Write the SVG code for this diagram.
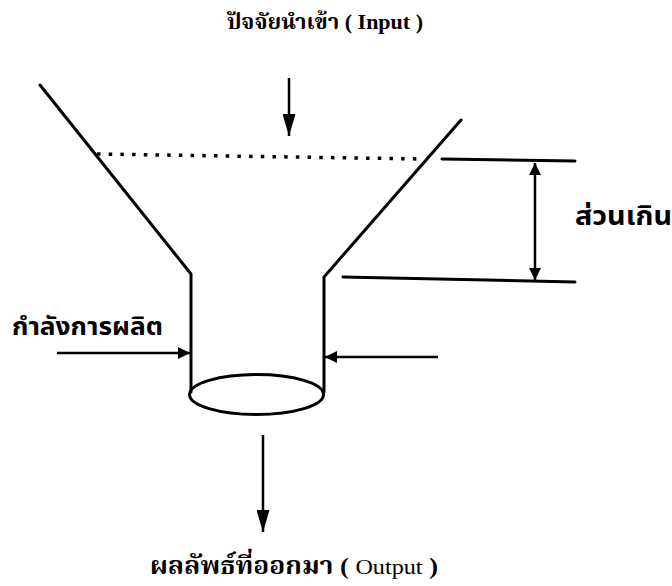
<svg xmlns="http://www.w3.org/2000/svg" width="672" height="586" viewBox="0 0 672 586">
<style>
.ln{stroke:#000;stroke-width:3;fill:none;stroke-linecap:round;stroke-linejoin:round}
.ar{stroke:#000;stroke-width:2.5;fill:none}
.dot{stroke:#000;stroke-width:3.5;fill:none;stroke-dasharray:3.5 8.2}
.t{font-family:"Liberation Serif","Noto Serif Thai","Noto Sans Thai",serif;fill:#000;font-weight:bold}
.ts{font-family:"Noto Sans Thai","Liberation Sans","Noto Sans",sans-serif;fill:#000;font-weight:bold}
</style>
<defs>
<marker id="ah" viewBox="0 0 10 10" refX="10" refY="5" markerWidth="12" markerHeight="12" markerUnits="userSpaceOnUse" orient="auto">
<path d="M0,0 L10,5 L0,10 Z" fill="#000"/>
</marker>
<marker id="ahl" viewBox="0 0 10 10" refX="10" refY="5" markerWidth="22" markerHeight="13" markerUnits="userSpaceOnUse" orient="auto" preserveAspectRatio="none">
<path d="M0,0 L10,5 L0,10 Z" fill="#000"/>
</marker>
</defs>
<rect width="672" height="586" fill="#fff"/>
<g id="funnel">
<path class="ln" d="M40,85 L191,274 L191,392"/>
<path class="ln" d="M461,120 L324,277 L324,392"/>
<ellipse class="ln" cx="256.5" cy="394.5" rx="67" ry="20"/>
<line class="dot" x1="97" y1="154" x2="423" y2="159"/>
</g>
<g id="input">
<text class="t" x="423" y="29" text-anchor="end" font-size="22">ปัจจัยนำเข้า ( Input )</text>
</g>
<g id="output">
<text class="t" x="150" y="574" font-size="24" textLength="288" lengthAdjust="spacingAndGlyphs">ผลลัพธ์ที่ออกมา ( <tspan font-weight="normal" font-size="22">Output</tspan> )</text>
</g>
<g id="capacity">
<text class="ts" x="12" y="335" font-size="25" textLength="151" lengthAdjust="spacingAndGlyphs">กำลังการผลิต</text>
</g>
<g id="excess">
<text class="ts" x="575" y="225" font-size="27" textLength="97" lengthAdjust="spacingAndGlyphs">ส่วนเกิน</text>
<line class="ln" x1="442" y1="159" x2="575" y2="161"/>
<line class="ln" x1="343" y1="277" x2="575" y2="282"/>
</g>
<g id="connectors">
<line class="ar" x1="289" y1="78" x2="289" y2="136" marker-end="url(#ahl)"/>
<line class="ar" x1="263" y1="435" x2="263" y2="532" marker-end="url(#ahl)"/>
<line class="ar" x1="57" y1="353" x2="190" y2="353" marker-end="url(#ah)"/>
<line class="ar" x1="438" y1="357" x2="325" y2="357" marker-end="url(#ah)"/>
<line class="ar" x1="535" y1="172" x2="535" y2="163" marker-end="url(#ah)"/>
<line class="ar" x1="535" y1="170" x2="535" y2="280" marker-end="url(#ah)"/>
</g>
</svg>
